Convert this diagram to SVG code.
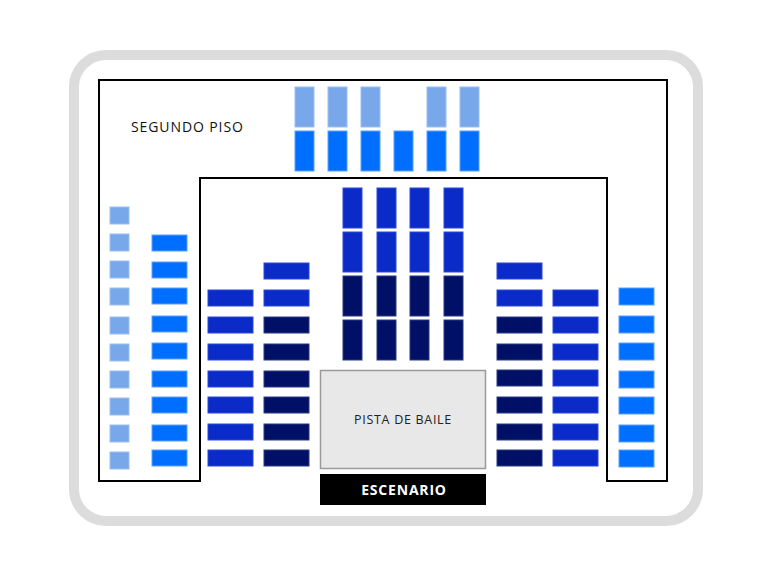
<svg xmlns="http://www.w3.org/2000/svg" width="772" height="582" viewBox="0 0 772 582">
<style>
.l{fill:#78A8EA;stroke:#9cc0f2;stroke-width:1}
.b{fill:#006EFF;stroke:#5aa0ff;stroke-width:1}
.m{fill:#0A2BC8;stroke:#2a48d8;stroke-width:1}
.d{fill:#001066;stroke:#2a3a80;stroke-width:1}
text{font-family:"Open Sans","Liberation Sans",sans-serif}
</style>
<rect x="0" y="0" width="772" height="582" fill="#fff"/>
<rect x="74" y="55" width="624" height="466" rx="32" fill="#fff" stroke="#dcdcdc" stroke-width="10"/>
<g id="walls"><path d="M99,80 H667 V481 H607 V178 H200 V481 H99 Z" fill="none" stroke="#000" stroke-width="2"/></g>
<g id="labels">
<text x="131" y="132" font-size="14" letter-spacing="0.9" fill="#111">SEGUNDO PISO</text>
</g>
<g id="top">
<rect class="l" x="295" y="87" width="19" height="40"/><rect class="l" x="328" y="87" width="19" height="40"/><rect class="l" x="361" y="87" width="19" height="40"/><rect class="l" x="427" y="87" width="19" height="40"/><rect class="l" x="460" y="87" width="19" height="40"/>
<rect class="b" x="295" y="131" width="19" height="40"/><rect class="b" x="328" y="131" width="19" height="40"/><rect class="b" x="361" y="131" width="19" height="40"/><rect class="b" x="394" y="131" width="19" height="40"/><rect class="b" x="427" y="131" width="19" height="40"/><rect class="b" x="460" y="131" width="19" height="40"/>
</g>
<g id="center">
<rect class="m" x="343" y="188" width="19" height="40"/><rect class="m" x="377" y="188" width="19" height="40"/><rect class="m" x="410" y="188" width="19" height="40"/><rect class="m" x="444" y="188" width="19" height="40"/>
<rect class="m" x="343" y="232" width="19" height="40"/><rect class="m" x="377" y="232" width="19" height="40"/><rect class="m" x="410" y="232" width="19" height="40"/><rect class="m" x="444" y="232" width="19" height="40"/>
<rect class="d" x="343" y="276" width="19" height="40"/><rect class="d" x="377" y="276" width="19" height="40"/><rect class="d" x="410" y="276" width="19" height="40"/><rect class="d" x="444" y="276" width="19" height="40"/>
<rect class="d" x="343" y="320" width="19" height="40"/><rect class="d" x="377" y="320" width="19" height="40"/><rect class="d" x="410" y="320" width="19" height="40"/><rect class="d" x="444" y="320" width="19" height="40"/>
</g>
<g id="left-outer">
<rect class="l" x="110" y="207" width="19" height="17"/><rect class="l" x="110" y="234" width="19" height="17"/><rect class="l" x="110" y="261" width="19" height="17"/><rect class="l" x="110" y="288" width="19" height="17"/><rect class="l" x="110" y="317" width="19" height="17"/><rect class="l" x="110" y="344" width="19" height="17"/><rect class="l" x="110" y="371" width="19" height="17"/><rect class="l" x="110" y="398" width="19" height="17"/><rect class="l" x="110" y="425" width="19" height="17"/><rect class="l" x="110" y="452" width="19" height="17"/>
<rect class="b" x="152" y="235" width="35" height="16"/><rect class="b" x="152" y="262" width="35" height="16"/><rect class="b" x="152" y="288" width="35" height="16"/><rect class="b" x="152" y="316" width="35" height="16"/><rect class="b" x="152" y="343" width="35" height="16"/><rect class="b" x="152" y="371" width="35" height="16"/><rect class="b" x="152" y="397" width="35" height="16"/><rect class="b" x="152" y="425" width="35" height="16"/><rect class="b" x="152" y="450" width="35" height="16"/>
</g>
<g id="left-inner">
<rect class="m" x="208" y="290" width="45" height="16"/><rect class="m" x="208" y="317" width="45" height="16"/><rect class="m" x="208" y="344" width="45" height="16"/><rect class="m" x="208" y="371" width="45" height="16"/><rect class="m" x="208" y="397" width="45" height="16"/><rect class="m" x="208" y="424" width="45" height="16"/><rect class="m" x="208" y="450" width="45" height="16"/>
<rect class="m" x="264" y="263" width="45" height="16"/><rect class="m" x="264" y="290" width="45" height="16"/><rect class="d" x="264" y="317" width="45" height="16"/><rect class="d" x="264" y="344" width="45" height="16"/><rect class="d" x="264" y="371" width="45" height="16"/><rect class="d" x="264" y="397" width="45" height="16"/><rect class="d" x="264" y="424" width="45" height="16"/><rect class="d" x="264" y="450" width="45" height="16"/>
</g>
<g id="right-inner">
<rect class="m" x="497" y="263" width="45" height="16"/><rect class="m" x="497" y="290" width="45" height="16"/><rect class="d" x="497" y="317" width="45" height="16"/><rect class="d" x="497" y="344" width="45" height="16"/><rect class="d" x="497" y="370" width="45" height="16"/><rect class="d" x="497" y="397" width="45" height="16"/><rect class="d" x="497" y="424" width="45" height="16"/><rect class="d" x="497" y="450" width="45" height="16"/>
<rect class="m" x="553" y="290" width="45" height="16"/><rect class="m" x="553" y="317" width="45" height="16"/><rect class="m" x="553" y="344" width="45" height="16"/><rect class="m" x="553" y="370" width="45" height="16"/><rect class="m" x="553" y="397" width="45" height="16"/><rect class="m" x="553" y="424" width="45" height="16"/><rect class="m" x="553" y="450" width="45" height="16"/>
</g>
<g id="right-outer">
<rect class="b" x="619" y="288" width="35" height="17"/><rect class="b" x="619" y="316" width="35" height="17"/><rect class="b" x="619" y="343" width="35" height="17"/><rect class="b" x="619" y="371" width="35" height="17"/><rect class="b" x="619" y="397" width="35" height="17"/><rect class="b" x="619" y="425" width="35" height="17"/><rect class="b" x="619" y="450" width="35" height="17"/>
</g>
<g id="pista">
<rect x="320.5" y="370.5" width="165" height="98" fill="#e8e8e8" stroke="#9a9a9a" stroke-width="1.5"/>
<text x="403" y="424" font-size="12.5" letter-spacing="0.7" text-anchor="middle" fill="#222">PISTA DE BAILE</text>
</g>
<g id="escenario">
<rect x="320" y="474" width="166" height="31" fill="#000"/>
<text x="404" y="495" font-size="14" letter-spacing="0.8" font-weight="bold" text-anchor="middle" fill="#fff">ESCENARIO</text>
</g>
</svg>
